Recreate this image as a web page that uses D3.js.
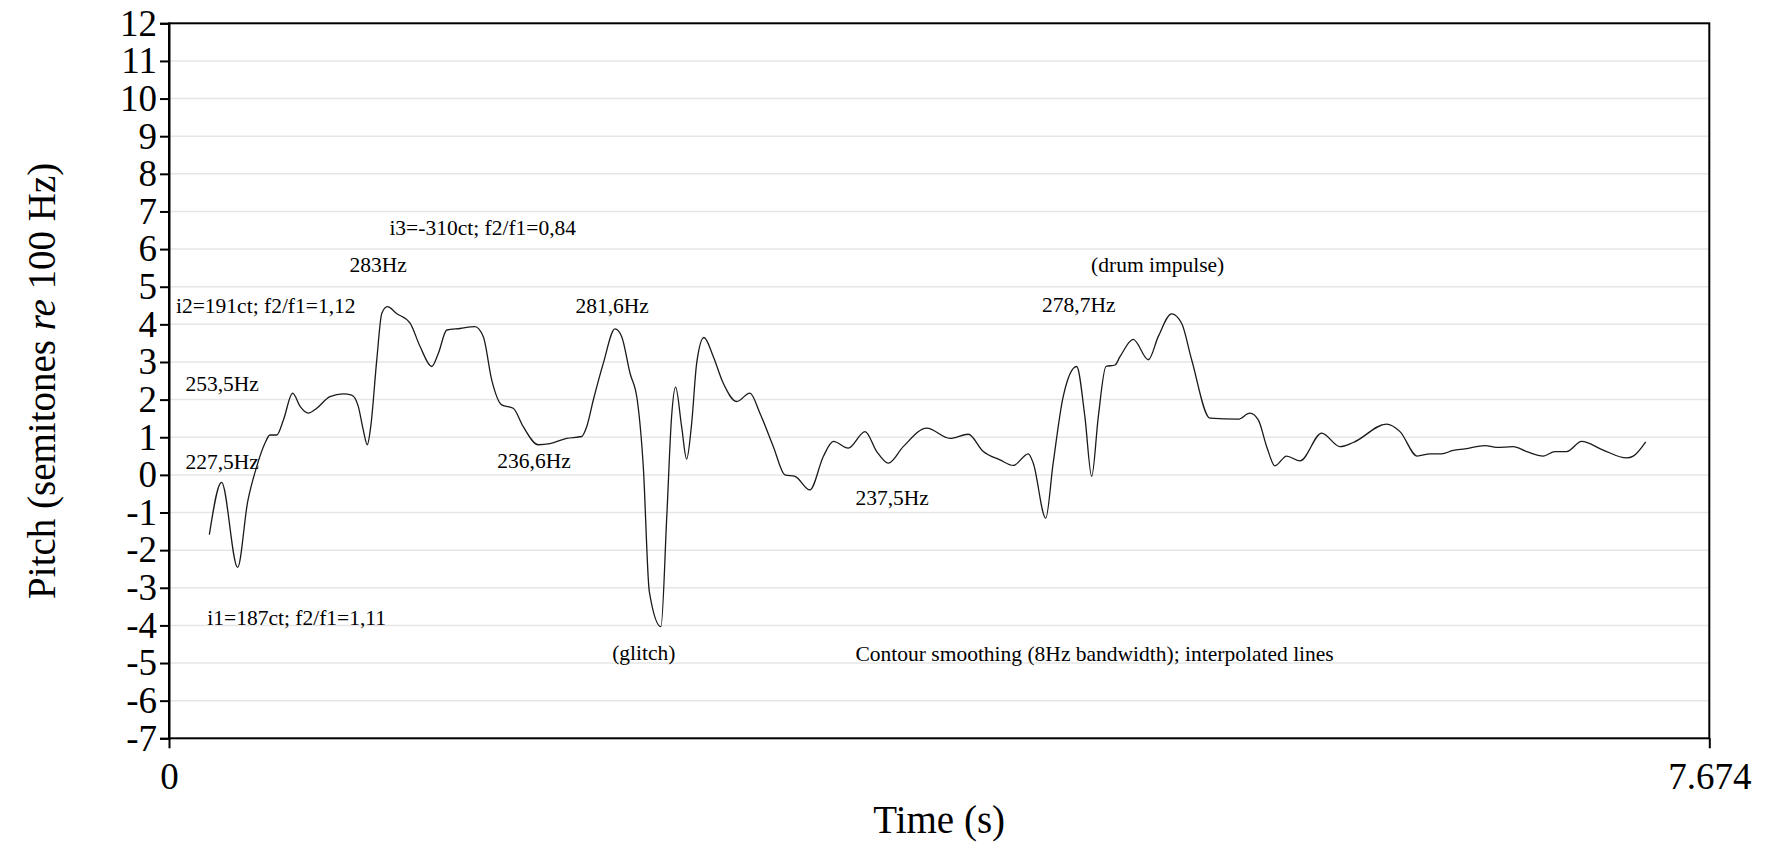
<!DOCTYPE html>
<html>
<head>
<meta charset="utf-8">
<script src="https://cdn.jsdelivr.net/npm/d3@7"></script>
<style>
  body { margin: 0; background: #fff; }
  svg text { font-family: "Liberation Serif", "Times New Roman", serif; fill: #000; }
</style>
</head>
<body>
<svg id="chart" width="1765" height="842"></svg>
<script>
// pitch contour, time in s
var times = [0.201, 0.262, 0.342, 0.392, 0.437, 0.478, 0.503, 0.537, 0.570, 0.616,
  0.653, 0.694, 0.736, 0.802, 0.868, 0.910, 0.943, 0.968, 0.988, 1.005,
  1.035, 1.060, 1.088, 1.134, 1.201, 1.251, 1.309, 1.342, 1.384, 1.450,
  1.524, 1.566, 1.608, 1.658, 1.715, 1.765, 1.840, 1.898, 1.981, 2.056,
  2.081, 2.114, 2.164, 2.222, 2.255, 2.297, 2.333, 2.363, 2.393, 2.451,
  2.480, 2.504, 2.524, 2.554, 2.579, 2.604, 2.629, 2.665, 2.712, 2.761,
  2.828, 2.894, 2.944, 3.011, 3.069, 3.119, 3.193, 3.260, 3.310, 3.384,
  3.468, 3.526, 3.584, 3.658, 3.775, 3.891, 3.982, 4.057, 4.140, 4.206,
  4.281, 4.306, 4.368, 4.405, 4.455, 4.522, 4.563, 4.597, 4.630, 4.668,
  4.713, 4.738, 4.804, 4.879, 4.929, 4.995, 5.045, 5.095, 5.186, 5.327,
  5.385, 5.427, 5.469, 5.510, 5.568, 5.635, 5.743, 5.834, 5.900, 6.066,
  6.133, 6.219, 6.282, 6.340, 6.398, 6.457, 6.556, 6.614, 6.697, 6.764,
  6.847, 6.905, 6.963, 7.038, 7.145, 7.262, 7.295, 7.357];

// semitones re 100 Hz
var pitch = [-1.59, -0.20, -2.46, -0.71, 0.22, 0.84, 1.06, 1.06, 1.46, 2.17,
  1.82, 1.64, 1.77, 2.08, 2.15, 2.12, 1.82, 1.19, 0.80, 1.28,
  3.05, 4.29, 4.47, 4.29, 4.03, 3.41, 2.88, 3.23, 3.85, 3.89,
  3.94, 3.67, 2.52, 1.86, 1.77, 1.28, 0.80, 0.83, 0.97, 1.02,
  1.28, 1.99, 2.97, 3.88, 3.68, 2.70, 1.99, 0.22, -3.10, -4.03,
  -1.11, 1.55, 2.33, 1.28, 0.42, 1.37, 2.97, 3.65, 3.14, 2.44,
  1.95, 2.17, 1.64, 0.75, 0.00, -0.04, -0.40, 0.49, 0.89, 0.71,
  1.15, 0.62, 0.31, 0.75, 1.24, 0.97, 1.08, 0.62, 0.40, 0.25,
  0.56, 0.31, -1.15, 0.31, 2.08, 2.88, 1.55, -0.04, 1.55, 2.88,
  2.92, 3.14, 3.60, 3.06, 3.68, 4.28, 4.03, 3.06, 1.51, 1.48,
  1.64, 1.46, 0.75, 0.24, 0.50, 0.37, 1.11, 0.75, 0.86, 1.35,
  1.15, 0.50, 0.56, 0.56, 0.65, 0.69, 0.78, 0.73, 0.75, 0.62,
  0.50, 0.62, 0.62, 0.89, 0.66, 0.45, 0.50, 0.88];

var yTicks = d3.range(-7, 13);
var xTicks = [0, 7.674];
var xTickLabels = ["0", "7.674"];

// annotations, placed at (time, semitone) of their left baseline
var noteTexts = ["i3=-310ct; f2/f1=0,84", "283Hz", "i2=191ct; f2/f1=1,12", "253,5Hz",
  "227,5Hz", "236,6Hz", "281,6Hz", "237,5Hz", "(glitch)",
  "Contour smoothing (8Hz bandwidth); interpolated lines", "i1=187ct; f2/f1=1,11",
  "(drum impulse)", "278,7Hz"];
var noteTimes = [1.098, 0.899, 0.035, 0.082, 0.082, 1.636, 2.025, 3.420, 2.208, 3.420, 0.191, 4.594, 4.350];
var notePitch = [6.38, 5.40, 4.30, 2.24, 0.16, 0.18, 4.30, -0.80, -4.92, -4.95, -3.99, 5.40, 4.34];

var svg = d3.select("#chart"),
  margin = { top: 23.3, right: 55.7, bottom: 103.7, left: 169 },
  width = 1765 - margin.left - margin.right,
  height = 842 - margin.top - margin.bottom;

var g = svg.append("g").attr("transform", `translate(${margin.left},${margin.top})`);

var x = d3.scaleLinear().domain([0, 7.674]).range([0, width]);
var y = d3.scaleLinear().domain([-7, 12]).range([height, 0]);

// light grid
g.append("g")
  .selectAll("line")
  .data(yTicks.filter(d => d > -7 && d < 12))
  .join("line")
  .attr("x1", 0).attr("x2", width)
  .attr("y1", d => y(d)).attr("y2", d => y(d))
  .attr("stroke", "#e6e6e6")
  .attr("stroke-width", 1.5);

// pitch line
var pts = times.map((t, i) => [t, pitch[i]]);
g.append("path")
  .datum(pts)
  .attr("fill", "none")
  .attr("stroke", "#1a1a1a")
  .attr("stroke-width", 1.3)
  .attr("d", d3.line().x(d => x(d[0])).y(d => y(d[1])).curve(d3.curveMonotoneX));

// frame
g.append("rect")
  .attr("width", width).attr("height", height)
  .attr("fill", "none").attr("stroke", "#000").attr("stroke-width", 2);

// y axis
var yAxis = g.append("g")
  .call(d3.axisLeft(y).tickValues(yTicks).tickSize(9).tickPadding(3).tickFormat(d => String(d)));
yAxis.select(".domain").attr("stroke-width", 2);
yAxis.selectAll(".tick line").attr("stroke-width", 2);
yAxis.selectAll("text").style("font-size", "37px").attr("font-family", null);

// x axis
var xAxis = g.append("g")
  .attr("transform", `translate(0,${height})`)
  .call(d3.axisBottom(x).tickValues(xTicks).tickSize(10).tickPadding(14)
    .tickFormat((d, i) => xTickLabels[i]));
xAxis.select(".domain").remove();
xAxis.selectAll(".tick line").attr("stroke-width", 2);
xAxis.selectAll("text").style("font-size", "37px").attr("font-family", null);

// axis titles
svg.append("text")
  .attr("x", margin.left + width / 2)
  .attr("y", 833)
  .attr("text-anchor", "middle")
  .style("font-size", "39px")
  .text("Time (s)");

var yTitle = svg.append("text")
  .attr("transform", `translate(55,${margin.top + height / 2}) rotate(-90)`)
  .attr("text-anchor", "middle")
  .style("font-size", "39px");
yTitle.append("tspan").text("Pitch (semitones ");
yTitle.append("tspan").style("font-style", "italic").text("re");
yTitle.append("tspan").text(" 100 Hz)");

// annotations
g.append("g")
  .selectAll("text")
  .data(noteTexts)
  .join("text")
  .attr("x", (d, i) => x(noteTimes[i]))
  .attr("y", (d, i) => y(notePitch[i]))
  .style("font-size", "21.5px")
  .text(d => d);
</script>
</body>
</html>
